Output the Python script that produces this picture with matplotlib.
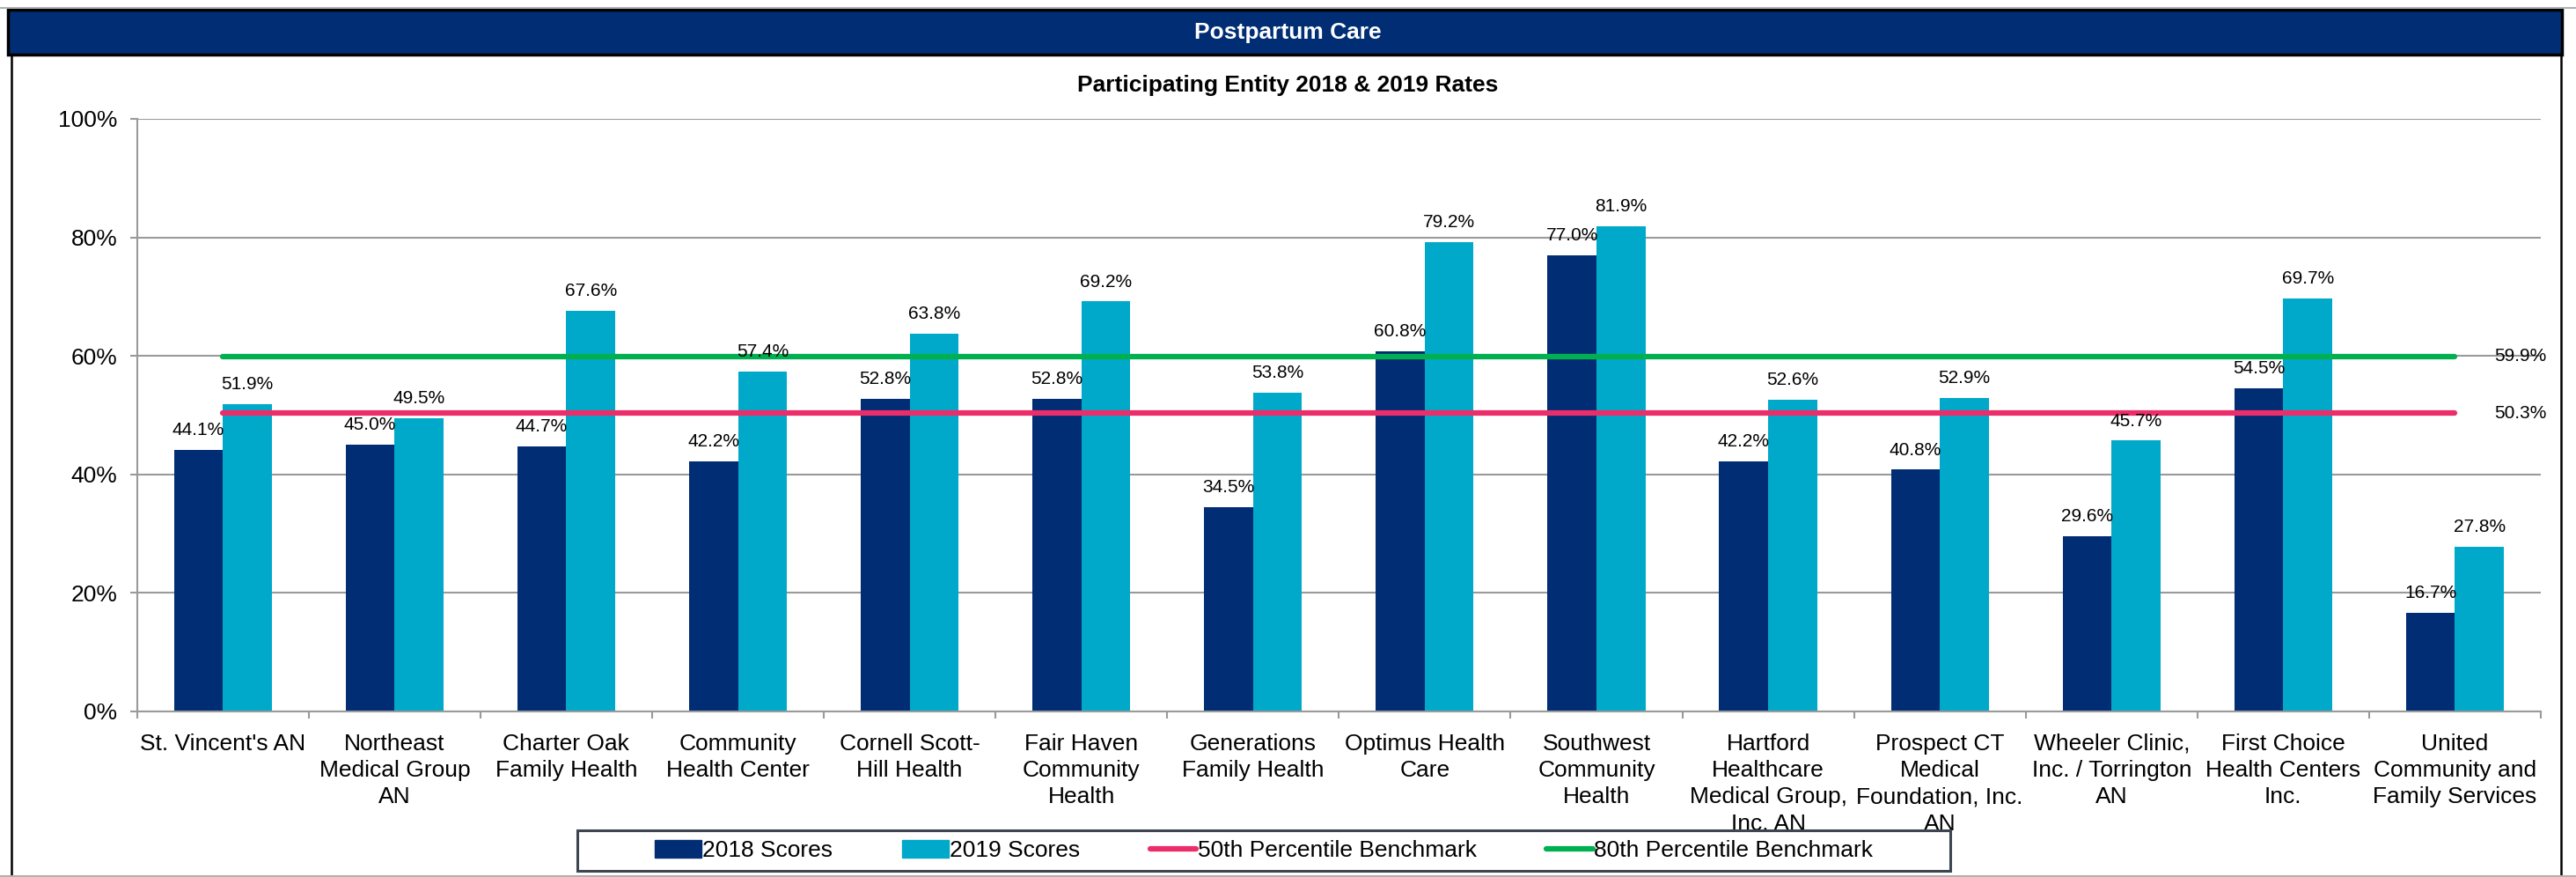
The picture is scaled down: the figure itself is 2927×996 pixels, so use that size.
import numpy as np
import matplotlib.pyplot as plt
from matplotlib.patches import Rectangle, Patch
from matplotlib.lines import Line2D

plt.rcParams["font.family"] = ["Liberation Sans", "DejaVu Sans"]

# Datos
entidades = [
    "St. Vincent's AN",
    "Northeast\nMedical Group\nAN",
    "Charter Oak\nFamily Health",
    "Community\nHealth Center",
    "Cornell Scott-\nHill Health",
    "Fair Haven\nCommunity\nHealth",
    "Generations\nFamily Health",
    "Optimus Health\nCare",
    "Southwest\nCommunity\nHealth",
    "Hartford\nHealthcare\nMedical Group,\nInc. AN",
    "Prospect CT\nMedical\nFoundation, Inc.\nAN",
    "Wheeler Clinic,\nInc. / Torrington\nAN",
    "First Choice\nHealth Centers\nInc.",
    "United\nCommunity and\nFamily Services",
]
scores_2018 = [44.1, 45.0, 44.7, 42.2, 52.8, 52.8, 34.5, 60.8, 77.0, 42.2, 40.8, 29.6, 54.5, 16.7]
scores_2019 = [51.9, 49.5, 67.6, 57.4, 63.8, 69.2, 53.8, 79.2, 81.9, 52.6, 52.9, 45.7, 69.7, 27.8]
bench_50 = 50.3
bench_80 = 59.9

c2018 = "#002D74"
c2019 = "#00A9C9"
c50 = "#EB2D6A"
c80 = "#00B050"
gris = "#9A9A9A"

fig = plt.figure(figsize=(29.27, 9.96), dpi=100)

# ================================
# Marco y barra de titulo
# ================================
fig.add_artist(Line2D([0, 1], [0.991, 0.991], color="#B0B0B0", lw=1.5))
fig.add_artist(Rectangle((0.003, 0.9378), 0.9917, 0.051, facecolor=c2018,
                         edgecolor="black", lw=2.5, transform=fig.transFigure))
fig.text(0.5, 0.963, "Postpartum Care", color="white", fontsize=19,
         fontweight="bold", ha="center", va="center")
fig.add_artist(Line2D([0.0045, 0.0045], [0.0, 0.9378], color="black", lw=1.8))
fig.add_artist(Line2D([0.9942, 0.9942], [0.0, 0.9378], color="black", lw=1.8))
fig.add_artist(Line2D([0, 1], [0.001, 0.001], color="#B0B0B0", lw=1.5))

fig.text(0.5, 0.9026, "Participating Entity 2018 & 2019 Rates", fontsize=19,
         fontweight="bold", ha="center", va="center")

# ================================
# Grafico de barras
# ================================
ax = fig.add_axes([0.05319, 0.1888, 0.93314, 0.6757])
x = np.arange(len(entidades))
w = 0.285

ax.bar(x - w / 2, scores_2018, w, color=c2018, zorder=2)
ax.bar(x + w / 2, scores_2019, w, color=c2019, zorder=2)

for xi, v in zip(x, scores_2018):
    ax.text(xi - w / 2, v + 3.3, f"{v:.1f}%", ha="center", va="center", fontsize=15, zorder=4)
for xi, v in zip(x, scores_2019):
    ax.text(xi + w / 2, v + 3.3, f"{v:.1f}%", ha="center", va="center", fontsize=15, zorder=4)

ax.plot([x[0], x[-1]], [bench_50, bench_50], color=c50, lw=4.5,
        solid_capstyle="round", zorder=3)
ax.plot([x[0], x[-1]], [bench_80, bench_80], color=c80, lw=4.5,
        solid_capstyle="round", zorder=3)
ax.text(13.38, bench_80, f"{bench_80:.1f}%", ha="center", va="center", fontsize=15, zorder=4)
ax.text(13.38, bench_50, f"{bench_50:.1f}%", ha="center", va="center", fontsize=15, zorder=4)

ax.set_xlim(-0.5, len(entidades) - 0.5)
ax.set_ylim(0, 100)
ax.set_yticks(range(0, 101, 20))
ax.set_yticklabels([f"{v}%" for v in range(0, 101, 20)], fontsize=19)
ax.yaxis.grid(True, color=gris, lw=1.5, zorder=0)
ax.set_axisbelow(True)

ax.set_xticks(np.arange(-0.5, len(entidades), 1))
ax.set_xticklabels([])
ax.set_xticks(x, minor=True)
ax.set_xticklabels(entidades, minor=True, fontsize=19, linespacing=1.33)
ax.tick_params(axis="x", which="major", length=6, width=1.5, color=gris)
ax.tick_params(axis="x", which="minor", length=0, pad=18)
ax.tick_params(axis="y", length=6, width=1.5, color=gris, pad=10)

for s in ["top", "right"]:
    ax.spines[s].set_visible(False)
ax.spines["left"].set_color(gris)
ax.spines["bottom"].set_color(gris)
ax.spines["left"].set_linewidth(1.5)
ax.spines["bottom"].set_linewidth(1.5)

# ================================
# Leyenda
# ================================
fig.add_artist(Rectangle((0.2241, 0.0070), 0.533, 0.0462, facecolor="white",
                         edgecolor="#3C4550", lw=2.2, transform=fig.transFigure))
handles = [
    Patch(color=c2018),
    Patch(color=c2019),
    Line2D([0], [0], color=c50, lw=4.5, solid_capstyle="round"),
    Line2D([0], [0], color=c80, lw=4.5, solid_capstyle="round"),
]
labels = ["2018 Scores", "2019 Scores", "50th Percentile Benchmark", "80th Percentile Benchmark"]
fig.legend(handles, labels, loc="center", bbox_to_anchor=(0.4906, 0.030), ncol=4,
           frameon=False, fontsize=19, handlelength=2.0, handleheight=0.75,
           handletextpad=0.05, columnspacing=3.0)

fig.savefig("out.png", dpi=100)
